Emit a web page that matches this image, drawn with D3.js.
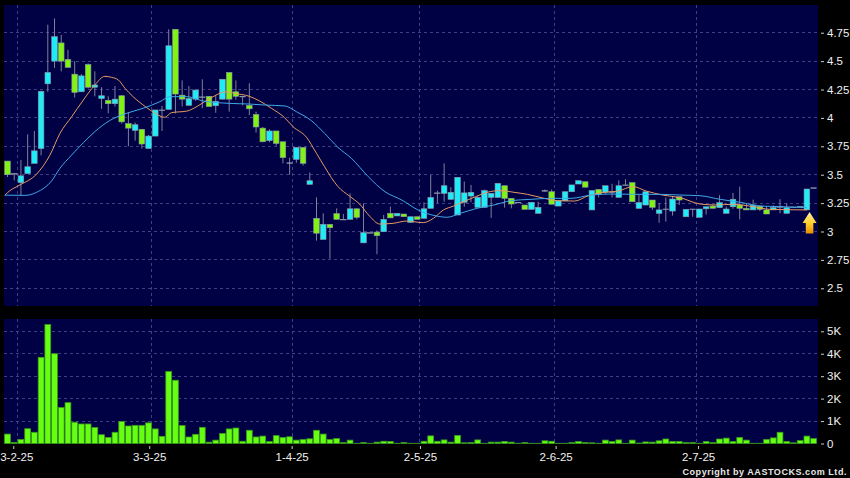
<!DOCTYPE html>
<html><head><meta charset="utf-8">
<script src="https://cdnjs.cloudflare.com/ajax/libs/d3/7.8.5/d3.min.js"></script>
<style>html,body{margin:0;padding:0;background:#000;overflow:hidden}svg{display:block}text{font-family:"Liberation Sans",Arial,sans-serif}</style>
</head><body><svg id="c" width="850" height="478"></svg>
<script>
const opens=[3.62,3.51,3.43,3.51,3.60,3.73,4.30,4.50,4.66,4.515,4.385,4.23,4.47,4.27,4.17,4.155,4.125,4.195,3.95,3.89,3.90,3.73,3.84,4.07,4.075,4.78,4.20,4.11,4.165,4.185,4.19,4.107,4.165,4.40,4.23,4.19,4.11,4.03,3.91,3.80,3.885,3.79,3.605,3.635,3.74,3.415,3.116,2.93,3.063,3.157,3.107,3.107,3.20,2.90,2.99,2.995,2.998,3.16,3.137,3.154,3.08,3.13,3.116,3.204,3.34,3.336,3.283,3.145,3.257,3.312,3.213,3.213,3.30,3.30,3.403,3.292,3.257,3.233,3.195,3.16,3.36,3.35,3.224,3.27,3.35,3.418,3.438,3.19,3.37,3.345,3.35,3.30,3.41,3.43,3.204,3.233,3.277,3.16,3.198,3.18,3.306,3.13,3.198,3.125,3.20,3.224,3.21,3.16,3.218,3.233,3.204,3.19,3.224,3.19,3.19,3.218,3.16,3.215,3.22,3.19,3.385];
const highs=[3.62,3.51,3.63,3.855,3.885,4.24,4.82,4.875,4.73,4.60,4.50,4.386,4.48,4.41,4.27,4.19,4.28,4.20,4.045,3.96,3.90,3.85,4.07,4.105,4.78,4.78,4.33,4.28,4.25,4.34,4.19,4.20,4.34,4.40,4.33,4.19,4.305,4.055,3.92,3.90,3.885,3.79,3.65,3.74,3.74,3.52,3.30,3.16,3.063,3.204,3.154,3.336,3.20,3.248,2.99,3.01,3.145,3.22,3.16,3.154,3.13,3.13,3.257,3.497,3.36,3.60,3.39,3.477,3.44,3.41,3.31,3.37,3.336,3.424,3.403,3.292,3.257,3.233,3.257,3.262,3.37,3.37,3.27,3.35,3.41,3.447,3.438,3.36,3.37,3.403,3.42,3.45,3.46,3.43,3.33,3.35,3.277,3.25,3.30,3.31,3.306,3.195,3.198,3.198,3.218,3.235,3.32,3.22,3.34,3.394,3.25,3.28,3.224,3.22,3.23,3.284,3.25,3.215,3.22,3.374,3.385];
const lows=[3.48,3.45,3.32,3.51,3.60,3.67,4.23,4.44,4.41,4.44,4.18,4.23,4.26,4.19,4.08,4.04,4.10,3.95,3.75,3.80,3.73,3.73,3.84,3.885,4.075,4.04,4.10,4.11,4.15,4.085,4.10,4.045,4.16,4.055,4.16,4.11,4.025,3.87,3.785,3.785,3.755,3.60,3.50,3.605,3.58,3.415,2.92,2.93,2.76,3.107,3.107,3.107,3.107,2.90,2.99,2.80,2.998,3.12,3.137,3.13,3.08,3.107,3.116,3.204,3.25,3.262,3.283,3.145,3.218,3.257,3.213,3.213,3.12,3.30,3.21,3.204,3.257,3.195,3.195,3.16,3.35,3.24,3.224,3.27,3.35,3.418,3.39,3.19,3.30,3.33,3.30,3.30,3.41,3.262,3.204,3.233,3.19,3.077,3.086,3.14,3.233,3.13,3.13,3.125,3.15,3.204,3.21,3.16,3.20,3.107,3.19,3.19,3.18,3.154,3.19,3.16,3.16,3.215,3.22,3.19,3.385];
const closes=[3.50,3.51,3.49,3.57,3.71,4.234,4.40,4.715,4.50,4.445,4.225,4.37,4.27,4.29,4.195,4.125,4.165,3.965,3.91,3.94,3.77,3.84,4.07,4.07,4.635,4.21,4.165,4.17,4.245,4.185,4.10,4.146,4.34,4.165,4.19,4.19,4.08,3.92,3.79,3.885,3.775,3.65,3.605,3.74,3.60,3.447,2.985,3.063,3.033,3.107,3.107,3.20,3.125,2.99,2.99,2.963,3.107,3.12,3.16,3.13,3.13,3.107,3.20,3.30,3.34,3.403,3.345,3.477,3.34,3.345,3.30,3.36,3.336,3.424,3.292,3.242,3.257,3.195,3.257,3.213,3.36,3.24,3.27,3.35,3.41,3.447,3.39,3.36,3.327,3.403,3.35,3.403,3.41,3.262,3.254,3.35,3.213,3.19,3.198,3.286,3.277,3.195,3.198,3.198,3.218,3.204,3.254,3.198,3.284,3.204,3.19,3.233,3.195,3.154,3.21,3.218,3.21,3.215,3.22,3.374,3.385];
const volumes=[0.42,0.05,0.18,0.66,0.5,3.84,5.3,4.0,1.6,1.82,0.95,0.87,0.87,0.71,0.39,0.27,0.5,0.98,0.78,0.81,0.81,0.92,0.65,0.32,3.21,2.82,0.8,0.29,0.41,0.72,0.06,0.15,0.45,0.65,0.69,0.1,0.59,0.29,0.33,0.09,0.35,0.27,0.3,0.15,0.18,0.21,0.59,0.42,0.18,0.22,0.04,0.15,0.01,0.04,0.01,0.06,0.1,0.09,0.01,0.04,0.01,0.01,0.1,0.34,0.1,0.16,0.06,0.36,0.03,0.04,0.16,0.01,0.06,0.06,0.09,0.06,0.01,0.04,0.01,0.01,0.12,0.1,0.01,0.01,0.04,0.09,0.04,0.03,0.01,0.15,0.09,0.16,0.01,0.15,0.02,0.07,0.06,0.12,0.2,0.09,0.09,0.04,0.04,0.01,0.09,0.04,0.2,0.24,0.09,0.27,0.15,0.01,0.01,0.18,0.25,0.5,0.09,0.03,0.13,0.33,0.22];
const orangeIdx=[-0.4,0.37,1.86,4.34,6.32,7.81,9.55,11.3,13,14.5,15.5,16.5,17.5,18.7,20.5,22,23.4,24.4,26.7,28.2,30.1,32.6,33.8,36,37.5,39.3,41.2,42.5,44.5,46,47.2,49.2,50.9,52.4,53.9,55.4,57.4,59.4,61.9,63.4,64.9,66.4,67.9,69.7,71.4,73.4,75.4,77.4,79.9,81.9,84.4,86.4,88.4,90.9,93.1,95.1,97.6,100.1,103.1,105.5,108,111,113.5,119];
const orangeVals=[3.32,3.36,3.41,3.506,3.673,3.864,4.01,4.158,4.29,4.366,4.357,4.334,4.26,4.187,4.10,4.04,4.005,4.046,4.06,4.10,4.17,4.23,4.216,4.19,4.15,4.084,4.005,3.923,3.83,3.688,3.57,3.395,3.312,3.242,3.136,3.066,3.072,3.092,3.078,3.116,3.19,3.224,3.263,3.307,3.345,3.36,3.345,3.327,3.292,3.271,3.268,3.313,3.342,3.356,3.395,3.356,3.32,3.298,3.242,3.233,3.24,3.219,3.195,3.19];
const blueIdx=[-0.4,2.6,4.34,6.6,7.8,9.55,11.3,13,15.2,17.7,20.2,22.7,24.2,26.7,29.1,33,36,38.4,41.3,43,45.3,47.2,49.2,51.2,53.7,56.2,58.7,61.1,63.9,65.4,67.4,69.9,72.4,74.9,77.9,80.9,83.9,86.9,89.9,94.1,97.1,100.1,103.1,106.1,109.1,112.1,115.1,119];
const blueVals=[3.32,3.318,3.345,3.448,3.556,3.673,3.782,3.879,3.976,4.04,4.085,4.143,4.187,4.187,4.149,4.128,4.122,4.113,4.105,4.055,3.973,3.864,3.74,3.644,3.483,3.35,3.277,3.19,3.136,3.125,3.16,3.204,3.233,3.271,3.283,3.292,3.292,3.321,3.33,3.327,3.327,3.321,3.315,3.283,3.257,3.224,3.219,3.21];
const priceTicks=[2.5,2.75,3,3.25,3.5,3.75,4,4.25,4.5,4.75];
const volTicks=[0,1,2,3,4,5];
const dateLabels=["3-2-25","3-3-25","1-4-25","2-5-25","2-6-25","2-7-25"];
const dateTickIdx=[0.86,21.1,42.3,61.4,81.6,102.8];
const gridIdx=[1.5,21.4,42.5,61.4,81.4,102.6];
const arrowIdx=119.4, arrowPrice=3.0;

const L=4,R=818,T1=5,B1=306,T2=319,B2=443.5;
const svg=d3.select("#c");
const x=d3.scaleLinear().domain([0,120]).range([7.5,813.6]);
const y=d3.scaleLinear().domain([3,4.75]).range([231.5,32.7]);
const v=d3.scaleLinear().domain([0,5]).range([B2,331.3]);

const defs=svg.append("defs");
const g0=defs.append("linearGradient").attr("id","arrowGrad").attr("x1",0).attr("y1",0).attr("x2",0).attr("y2",1);
g0.append("stop").attr("offset",0).attr("stop-color","#fff0a0");
g0.append("stop").attr("offset",.5).attr("stop-color","#ffd030");
g0.append("stop").attr("offset",1).attr("stop-color","#e89000");

svg.append("rect").attr("x",L).attr("y",T1).attr("width",R-L).attr("height",B1-T1).attr("fill","#000044");
svg.append("rect").attr("x",L).attr("y",T2).attr("width",R-L).attr("height",B2-T2).attr("fill","#000044");

const gridC="#3e3e82";
const grid=svg.append("g").attr("stroke",gridC).attr("stroke-width",1).attr("stroke-dasharray","3,3").attr("shape-rendering","crispEdges");
priceTicks.forEach(p=>grid.append("line").attr("x1",L).attr("x2",R).attr("y1",y(p)).attr("y2",y(p)));
volTicks.slice(1).forEach(p=>grid.append("line").attr("x1",L).attr("x2",R).attr("y1",v(p)).attr("y2",v(p)));
gridIdx.forEach(i=>{
  grid.append("line").attr("x1",x(i)).attr("x2",x(i)).attr("y1",T1).attr("y2",B1);
  grid.append("line").attr("x1",x(i)).attr("x2",x(i)).attr("y1",T2).attr("y2",B2);
});

// wicks
const idx=d3.range(opens.length);
svg.append("g").attr("stroke","#7f8099").attr("stroke-width",1).selectAll("line").data(idx).join("line")
  .attr("x1",i=>x(i)).attr("x2",i=>x(i)).attr("y1",i=>y(highs[i])).attr("y2",i=>y(lows[i]));
// bodies
const bw=5.6;
svg.append("g").selectAll("rect").data(idx).join("rect")
  .attr("x",i=>x(i)-bw/2).attr("width",bw)
  .attr("y",i=>y(Math.max(opens[i],closes[i])))
  .attr("height",i=>Math.max(0.6,Math.abs(y(opens[i])-y(closes[i]))))
  .attr("fill",i=>closes[i]>opens[i]?"#20ecf8":closes[i]<opens[i]?"#80f214":"#8c8ca0")
  .attr("stroke","#8a98a8").attr("stroke-width",0.6);

const line=d3.line().x(d=>x(d[0])).y(d=>y(d[1])).curve(d3.curveMonotoneX);
svg.append("path").attr("d",line(orangeIdx.map((d,i)=>[d,orangeVals[i]]))).attr("fill","none").attr("stroke","#e89a62").attr("stroke-width",1);
svg.append("path").attr("d",line(blueIdx.map((d,i)=>[d,blueVals[i]]))).attr("fill","none").attr("stroke","#3fa9e6").attr("stroke-width",1);

// volume
svg.append("g").selectAll("rect").data(idx).join("rect")
  .attr("x",i=>x(i)-2.9).attr("width",5.8)
  .attr("y",i=>v(volumes[i])).attr("height",i=>B2-v(volumes[i]))
  .attr("fill","#66ff11").attr("stroke","#3a9a1e").attr("stroke-width",0.8);

// axes
function styleAxis(g){
  g.select(".domain").remove();
  g.selectAll("line").attr("stroke","#cccccc");
  g.selectAll("text").attr("fill","#f0f0f0").attr("font-size",11.5).attr("font-family",'"Liberation Sans",Arial,sans-serif');
}
svg.append("g").attr("transform",`translate(821,0)`)
  .call(d3.axisRight(y).tickValues(priceTicks).tickFormat(d=>d).tickSize(3).tickPadding(3)).call(styleAxis);
svg.append("g").attr("transform",`translate(821,0)`)
  .call(d3.axisRight(v).tickValues(volTicks).tickFormat(d=>d?d+"K":"0").tickSize(3).tickPadding(3)).call(styleAxis);

const xb=d3.scaleOrdinal().domain(dateLabels).range(dateTickIdx.map(i=>x(i)));
const xAxis=svg.append("g").attr("transform",`translate(0,${B2+2.5})`)
  .call(d3.axisBottom(xb).tickSize(3).tickPadding(4)).call(styleAxis);
// first label nudged just inside the page so that it is fully readable
xAxis.selectAll("text").filter(d=>d===dateLabels[0]).attr("dx",3);

// arrow
const ax=x(arrowIdx), ay=y(arrowPrice)+2;
svg.append("path").attr("transform",`translate(${ax},${ay})`)
  .attr("d","M0,-21.5 L7,-10.5 L3.8,-10.5 L3.8,0 L-3.8,0 L-3.8,-10.5 L-7,-10.5 Z")
  .attr("fill","url(#arrowGrad)");

svg.append("text").attr("x",847).attr("y",475).attr("text-anchor","end").attr("font-size",9).attr("font-weight","bold")
  .attr("letter-spacing",0.55).attr("fill","#e8e8e8").text("Copyright by AASTOCKS.com Ltd.");
</script></body></html>
